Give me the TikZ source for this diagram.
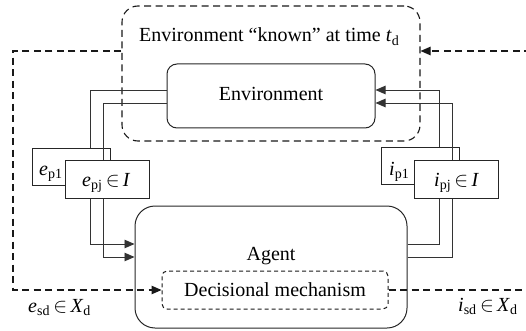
\documentclass[tikz,border=0pt]{standalone}
\usepackage{fontspec}
\setmainfont{Liberation Serif}
\usetikzlibrary{arrows.meta}
\newcommand\sbx[1]{\textsubscript{#1}}
\begin{document}
\begin{tikzpicture}[x=1pt,y=-1pt,
  every node/.style={font=\fontsize{20}{24}\selectfont},
  box/.style={draw=black!85, line width=1pt, inner sep=0pt},
  conn/.style={draw=black!80, line width=0.9pt},
  tipa/.style={-{Triangle[length=10pt,width=8.5pt]}},
  dline/.style={draw=black!90, line width=1.1pt, dash pattern=on 7pt off 4.5pt},
  dsmall/.style={draw=black!90, line width=1pt, dash pattern=on 4pt off 3pt},
  txt/.style={inner sep=0pt}]
\useasboundingbox (0,0) rectangle (526,331);

% boxes
\node[box, dline, rounded corners=16pt, minimum width=298pt, minimum height=135pt] (known) at (271,73.5) {};
\node[txt, anchor=base west] (knownt) at (139,42) {Environment “known” at time \textit{t}\sbx{d}};
\node[box, rounded corners=10pt, minimum width=208pt, minimum height=64pt] (env) at (271,96) {\raisebox{4pt}{Environment}};
\node[box, rounded corners=20pt, minimum width=272pt, minimum height=122pt] (agent) at (271,267) {\raisebox{27pt}{Agent}};
\node[box, dsmall, rounded corners=5pt, minimum width=226pt, minimum height=38pt] (dec) at (275,290) {Decisional mechanism};

% left perception boxes
\node[box, minimum width=78pt, minimum height=37pt] (ep1) at (71,166.5) {};
\node[txt, anchor=base west] (ep1t) at (39,175) {\textit{e}\sbx{p1}};
\node[box, fill=white, minimum width=84pt, minimum height=37.5pt] (epj) at (107,179.5) {};
\node[txt, anchor=base west] (epjt) at (82,186) {\textit{e}\sbx{pj}\,$\in$\,\textit{I}};
\draw[conn] ([yshift=6pt]env.west) -| ([xshift=-20pt]ep1.north east);
\draw[conn] ([yshift=-7pt]env.west) -| ([xshift=-4pt]epj.north);
\draw[conn, tipa] ([xshift=-17pt]epj.south) |- ([yshift=23pt]agent.west);
\draw[conn, tipa] ([xshift=-4pt]epj.south) |- ([yshift=10pt]agent.west);

% right action boxes
\node[box, minimum width=78pt, minimum height=36.5pt] (ip1) at (420,166) {};
\node[txt, anchor=base west] (ip1t) at (389,175) {\textit{i}\sbx{p1}};
\node[box, fill=white, minimum width=84pt, minimum height=37.5pt] (ipj) at (456,179.5) {};
\node[txt, anchor=base west] (ipjt) at (434,186) {\textit{i}\sbx{pj}\,$\in$\,\textit{I}};
\draw[conn, tipa] ([xshift=19pt]ip1.north) |- ([yshift=6pt]env.east);
\draw[conn, tipa] ([xshift=-4pt]ipj.north) |- ([yshift=-7pt]env.east);
\draw[conn] ([yshift=23pt]agent.east) -| ([xshift=-17pt]ipj.south);
\draw[conn] ([yshift=10pt]agent.east) -| ([xshift=-4pt]ipj.south);

% dashed state links
\coordinate (lc) at (13,0);
\coordinate (rc) at (530,0);
\draw[dline, tipa] ([yshift=22.5pt]known.west) -| (lc |- dec.west) -- (dec.west);
\draw[dline, tipa] (dec.east) -- (dec.east -| rc) |- ([yshift=22.5pt]known.east);
\node[txt, anchor=base west] (esd) at (28,312) {\textit{e}\sbx{sd}\,$\in$\,\textit{X}\sbx{d}};
\node[txt, anchor=base west] (isd) at (458,311.5) {\textit{i}\sbx{sd}\,$\in$\,\textit{X}\sbx{d}};
\end{tikzpicture}
\end{document}
